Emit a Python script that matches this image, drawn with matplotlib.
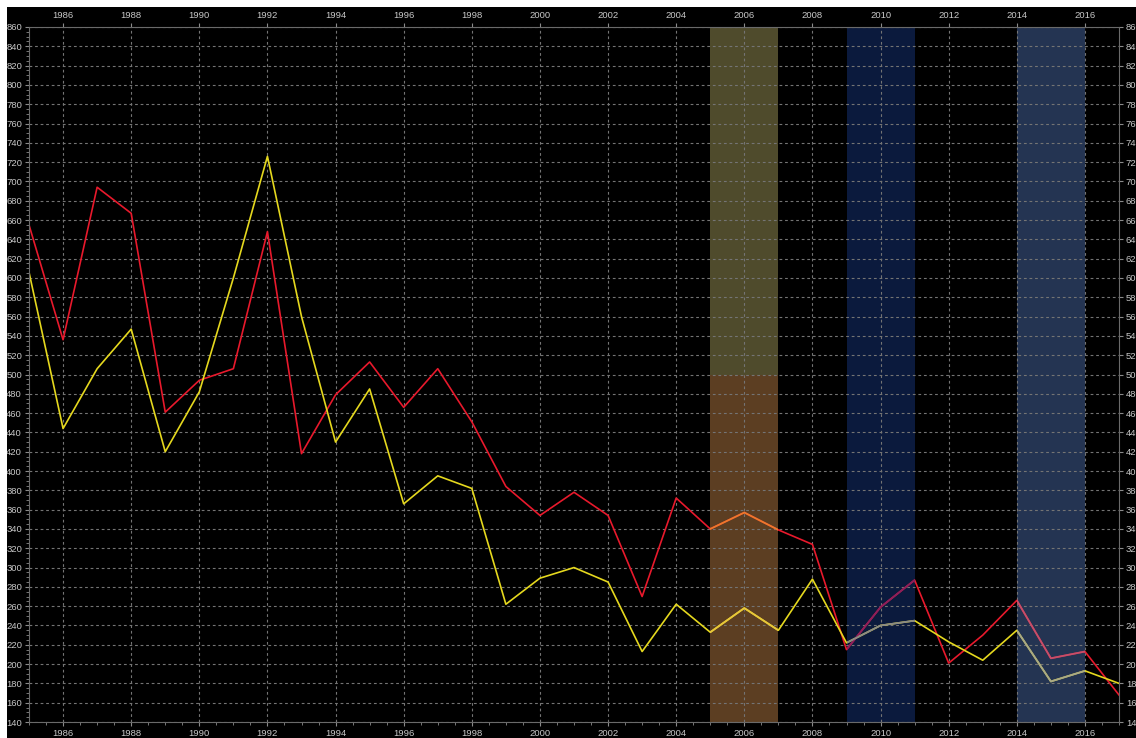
import matplotlib
matplotlib.use("Agg")
import matplotlib.pyplot as plt
from matplotlib.patches import Rectangle
from matplotlib.ticker import MultipleLocator

years = [1985, 1986, 1987, 1988, 1989, 1990, 1991, 1992, 1993, 1994, 1995,
         1996, 1997, 1998, 1999, 2000, 2001, 2002, 2003, 2004, 2005, 2006,
         2007, 2008, 2009, 2010, 2011, 2012, 2013, 2014, 2015, 2016, 2017]
red_values = [655, 536, 694, 667, 461, 494, 506, 648, 418, 479, 513,
              466, 506, 451, 384, 354, 378, 354, 270, 372, 340, 357,
              339, 324, 215, 259, 287, 201, 230, 266, 206, 213, 168]
yellow_values = [606, 444, 506, 547, 420, 482, 600, 726, 560, 430, 485,
                 366, 395, 382, 262, 289, 300, 285, 213, 262, 233, 258,
                 235, 288, 222, 240, 245, 223, 204, 235, 182, 193, 180]

# shaded periods: (start, end, y_low, y_high, fill colour, red tint, yellow tint)
spans = [
    (2005, 2007, 500, 860, '#4f4b2c', '#ec7a2c', '#e8c63a'),
    (2005, 2007, 140, 500, '#5c3e22', '#ec7a2c', '#e8c63a'),
    (2009, 2011, 140, 860, '#0b1a3d', '#8c1f5c', '#8a8a86'),
    (2014, 2016, 140, 860, '#243452', '#c4506c', '#a8a888'),
]

RED = '#e8192c'
YELLOW = '#e5d81e'
TXT = '#c8c8c8'
GRID = '#747474'

fig = plt.figure(figsize=(11.36, 7.38), dpi=100, facecolor='black')
ax = fig.add_axes([29 / 1136, 16 / 738, 1090 / 1136, 695 / 738])
ax.set_facecolor('black')

ax.set_xlim(1985, 2017)
ax.set_ylim(140, 860)

for (x0, x1, y0, y1, fc, rc, yc) in spans:
    rect = Rectangle((x0, y0), x1 - x0, y1 - y0, facecolor=fc, edgecolor='none', zorder=1)
    ax.add_patch(rect)

ax.plot(years, red_values, color=RED, lw=1.2, zorder=2)
ax.plot(years, yellow_values, color=YELLOW, lw=1.2, zorder=2)

for (x0, x1, y0, y1, fc, rc, yc) in spans:
    clip = Rectangle((x0, y0), x1 - x0, y1 - y0, transform=ax.transData)
    l1, = ax.plot(years, red_values, color=rc, lw=1.3, zorder=2.2)
    l1.set_clip_path(clip)
    l2, = ax.plot(years, yellow_values, color=yc, lw=1.3, zorder=2.2)
    l2.set_clip_path(clip)

ax.xaxis.set_major_locator(MultipleLocator(2))
ax.xaxis.set_minor_locator(MultipleLocator(0.5))
ax.yaxis.set_major_locator(MultipleLocator(20))
ax.yaxis.set_minor_locator(MultipleLocator(5))

ax.grid(True, which='major', color=GRID, lw=0.8, linestyle=(0, (2.5, 2.5)), zorder=1.5)
ax.set_axisbelow('line')

ax.tick_params(axis='both', which='both', colors='#8a8a8a', labelcolor=TXT,
               direction='out', labelsize=6.8)
ax.tick_params(axis='both', which='major', length=3, width=0.8, pad=2)
ax.tick_params(axis='both', which='minor', length=2, width=0.6)
ax.tick_params(axis='x', top=True, labeltop=True, bottom=True, labelbottom=True)
ax.tick_params(axis='y', left=True, labelleft=True, right=True, labelright=True)

for lab in ax.get_xticklabels() + ax.get_yticklabels():
    lab.set_fontfamily('Liberation Sans')

for sp in ax.spines.values():
    sp.set_color('#6a6a6a')
    sp.set_linewidth(0.8)

# white border strips of the original screenshot
fig.add_artist(Rectangle((0, 0), 7 / 1136, 1, transform=fig.transFigure,
                         facecolor='white', edgecolor='none', zorder=10))
fig.add_artist(Rectangle((0, 1 - 7 / 738), 1, 7 / 738, transform=fig.transFigure,
                         facecolor='white', edgecolor='none', zorder=10))

fig.savefig('out.png', dpi=100, facecolor='black')
